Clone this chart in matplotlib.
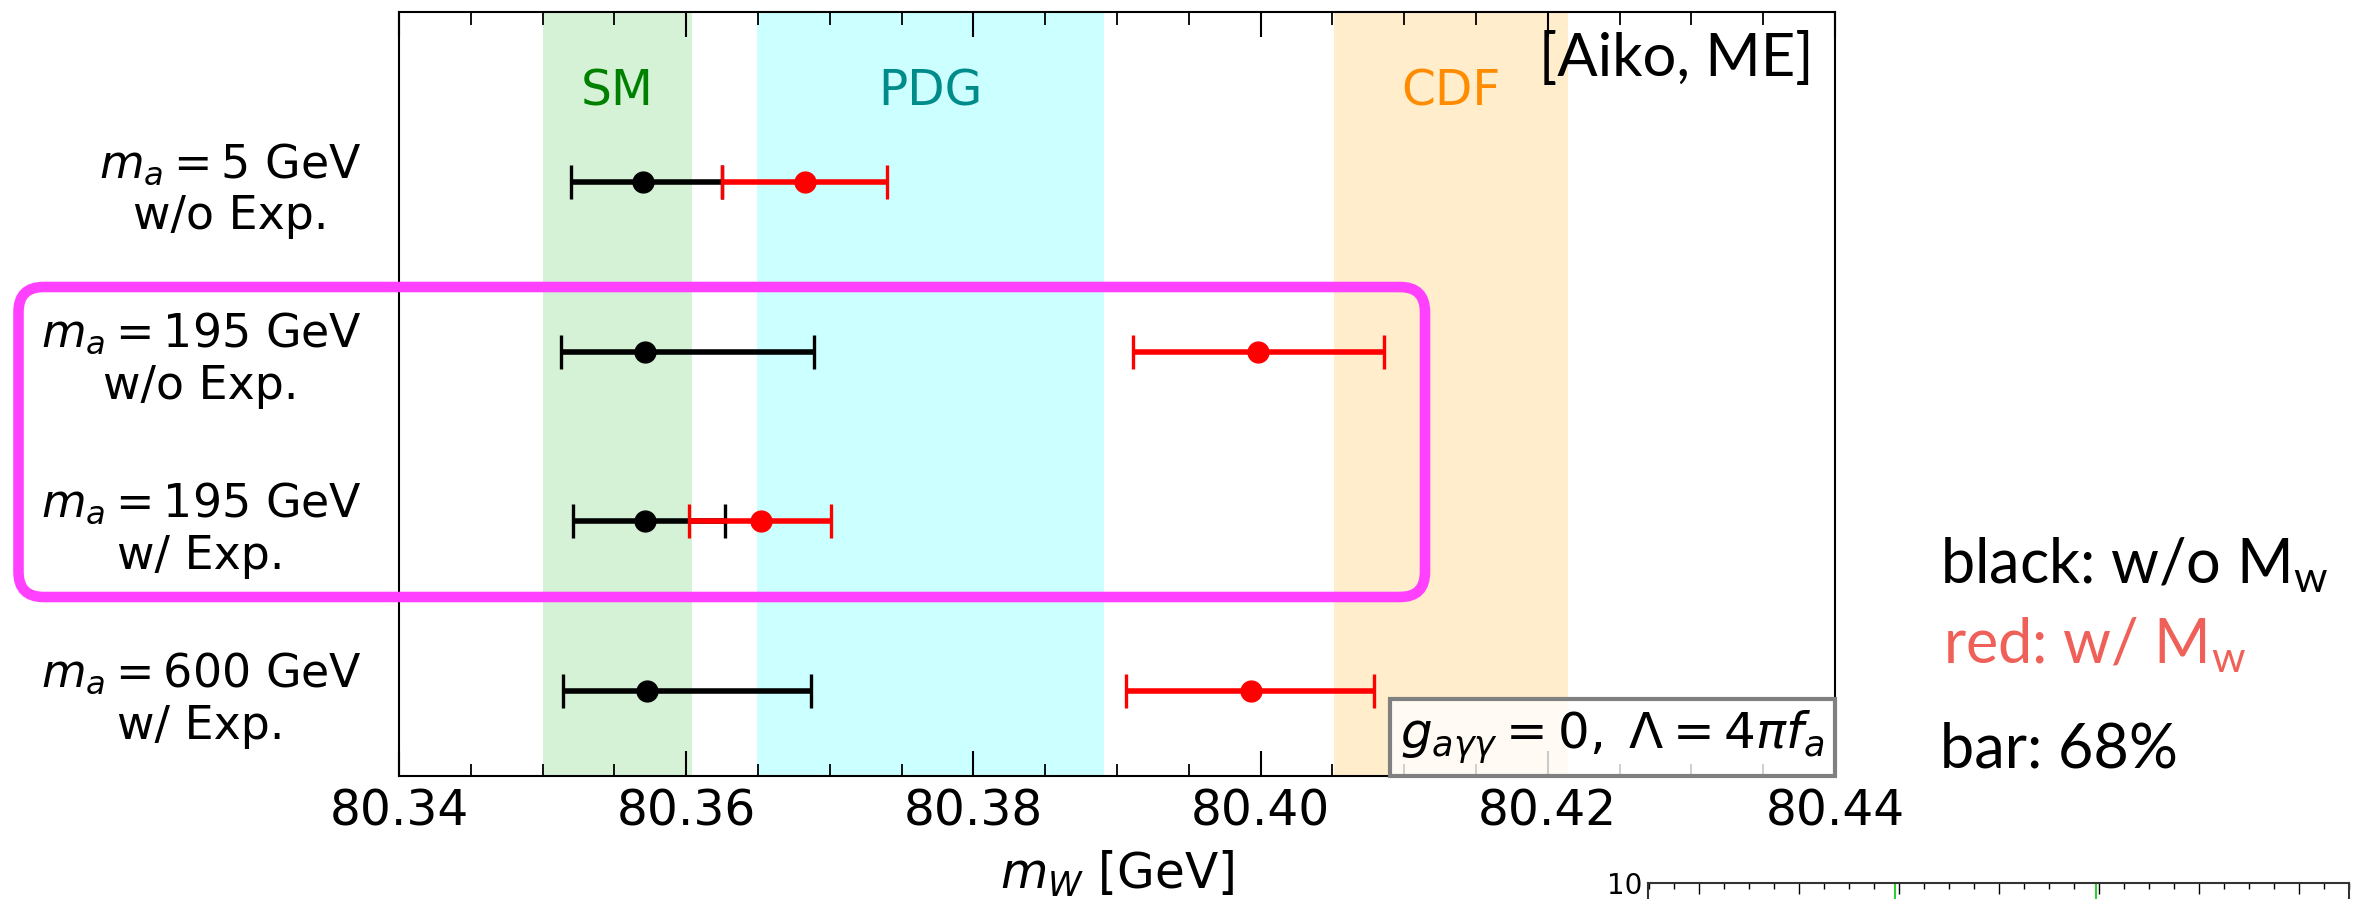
import matplotlib
matplotlib.use("Agg")
import matplotlib.pyplot as plt
from matplotlib.patches import FancyBboxPatch
from matplotlib.offsetbox import AnchoredText
from matplotlib.ticker import MultipleLocator
import numpy as np

# ---------------- data ----------------
row_labels = [r"$m_a = 5$ GeV" + "\nw/o Exp.",
              r"$m_a = 195$ GeV" + "\nw/o Exp.",
              r"$m_a = 195$ GeV" + "\nw/ Exp.",
              r"$m_a = 600$ GeV" + "\nw/ Exp."]
row_y = [4, 3, 2, 1]

black_center = [80.3570, 80.3571, 80.3571, 80.3573]
black_low = [80.3520, 80.3513, 80.3521, 80.3514]
black_high = [80.3625, 80.3689, 80.3627, 80.3687]

red_center = [80.3683, 80.3998, 80.3652, 80.3993]
red_low = [80.3625, 80.3911, 80.3602, 80.3906]
red_high = [80.3740, 80.4086, 80.3701, 80.4079]

band_names = ["SM", "PDG", "CDF"]
band_low = [80.3500, 80.3649, 80.4051]
band_high = [80.3604, 80.3891, 80.4214]
band_fill = ["#d6f2d6", "#ccffff", "#ffedcc"]
band_text_color = ["#008000", "#008b8b", "#ff8c00"]

xticks = [80.34, 80.36, 80.38, 80.40, 80.42, 80.44]
xtick_labels = ["80.34", "80.36", "80.38", "80.40", "80.42", "80.44"]

# fragment of a neighbouring panel (bottom right)
frag_green_x = [1.96, 3.97]

# ---------------- figure ----------------
W, H, DPI = 2356, 899, 100
fig = plt.figure(figsize=(W / DPI, H / DPI), dpi=DPI)

L, R, T, B = 399, 1835, 12, 776
ax = fig.add_axes([L / W, 1 - B / H, (R - L) / W, (B - T) / H])

for lo, hi, c in zip(band_low, band_high, band_fill):
    ax.axvspan(lo, hi, color=c, lw=0, zorder=0)
for lo, hi, name, tc in zip(band_low, band_high, band_names, band_text_color):
    ax.text((lo + hi) / 2, 4.53, name, color=tc, fontsize=35,
            ha="center", va="center")

for cx, lo, hi, y in zip(black_center, black_low, black_high, row_y):
    ax.errorbar([cx], [y], xerr=[[cx - lo], [hi - cx]], fmt="o", color="black",
                ms=15, elinewidth=4, capsize=12, capthick=2.4, zorder=3)
for cx, lo, hi, y in zip(red_center, red_low, red_high, row_y):
    ax.errorbar([cx], [y], xerr=[[cx - lo], [hi - cx]], fmt="o", color="red",
                ms=15, elinewidth=4, capsize=12, capthick=2.4, zorder=3)

ax.set_xlim(80.34, 80.44)
ax.set_ylim(0.5, 5.0)
ax.set_xticks(xticks)
ax.set_xticklabels(xtick_labels)
ax.xaxis.set_minor_locator(MultipleLocator(0.005))
ax.tick_params(axis="x", which="both", direction="in", top=True, bottom=True,
               labelsize=35, pad=8)
ax.tick_params(axis="x", which="major", length=18, width=1.5)
ax.tick_params(axis="x", which="minor", length=9, width=1.3)
ax.set_yticks(row_y)
ax.set_yticklabels(row_labels)
ax.tick_params(axis="y", which="both", length=0, labelsize=33, pad=27)
for lab in ax.get_yticklabels():
    lab.set_multialignment("center")
for sp in ax.spines.values():
    sp.set_linewidth(1.5)

ax.set_xlabel(r"$m_W$ [GeV]", fontsize=35, labelpad=10)

ax.text(0.985, 0.975, "[Aiko, ME]", transform=ax.transAxes, fontsize=43,
        family="Lato", ha="right", va="top")

at = AnchoredText(r"$g_{a\gamma\gamma} = 0,\;\Lambda = 4\pi f_a$", loc="lower right",
                  prop=dict(size=36), frameon=True, borderpad=0, pad=0.2)
at.patch.set_facecolor((1, 1, 1, 0.8))
at.patch.set_edgecolor((0.5, 0.5, 0.5, 1))
at.patch.set_linewidth(3)
at.patch.set_boxstyle("square,pad=0")
at.zorder = 5
ax.add_artist(at)

# magenta highlight box (figure, inches)
box = FancyBboxPatch((18.5 / DPI, (H - 597) / DPI), (1425 - 18.5) / DPI, 310 / DPI,
                     boxstyle="round,pad=0,rounding_size=0.25",
                     transform=fig.dpi_scale_trans, fill=False,
                     edgecolor="#ff40ff", linewidth=7.6, clip_on=False, zorder=10)
fig.add_artist(box)

# right-hand annotation
fig.text(1940 / W, 1 - 583 / H, r"black: w/o M$_\mathregular{w}$", fontsize=44,
         family="Lato", color="black", ha="left", va="baseline")
fig.text(1943 / W, 1 - 663 / H, r"red: w/ M$_\mathregular{w}$", fontsize=44,
         family="Lato", color="#ee6058", ha="left", va="baseline")
fig.text(1940 / W, 1 - 767 / H, "bar: 68%", fontsize=44,
         family="Lato", color="black", ha="left", va="baseline")

# fragment of neighbouring panel at bottom right
fL, fR, fT = 1648, 2349, 883
ax2 = fig.add_axes([fL / W, -0.3, (fR - fL) / W, 0.3 + (H - fT) / H])
ax2.set_xlim(-0.51, (fR - fL) / 100 - 0.51)
ax2.set_ylim(0, 10)
ax2.set_yticks([10])
ax2.set_yticklabels(["10"])
ax2.xaxis.set_ticks_position("top")
ax2.set_xticks(np.arange(0, 7))
ax2.xaxis.set_minor_locator(MultipleLocator(0.25))
ax2.tick_params(axis="x", which="both", direction="in", labeltop=False, labelbottom=False)
ax2.tick_params(axis="x", which="major", length=8, width=1)
ax2.tick_params(axis="x", which="minor", length=4, width=1)
ax2.tick_params(axis="y", direction="in", length=3, labelsize=20, pad=4)
for xg in frag_green_x:
    ax2.axvline(xg, color="#33cc33", lw=1.5)
for sp in ax2.spines.values():
    sp.set_color("#333333")
    sp.set_linewidth(1.5)

fig.savefig("out.png", dpi=DPI)
